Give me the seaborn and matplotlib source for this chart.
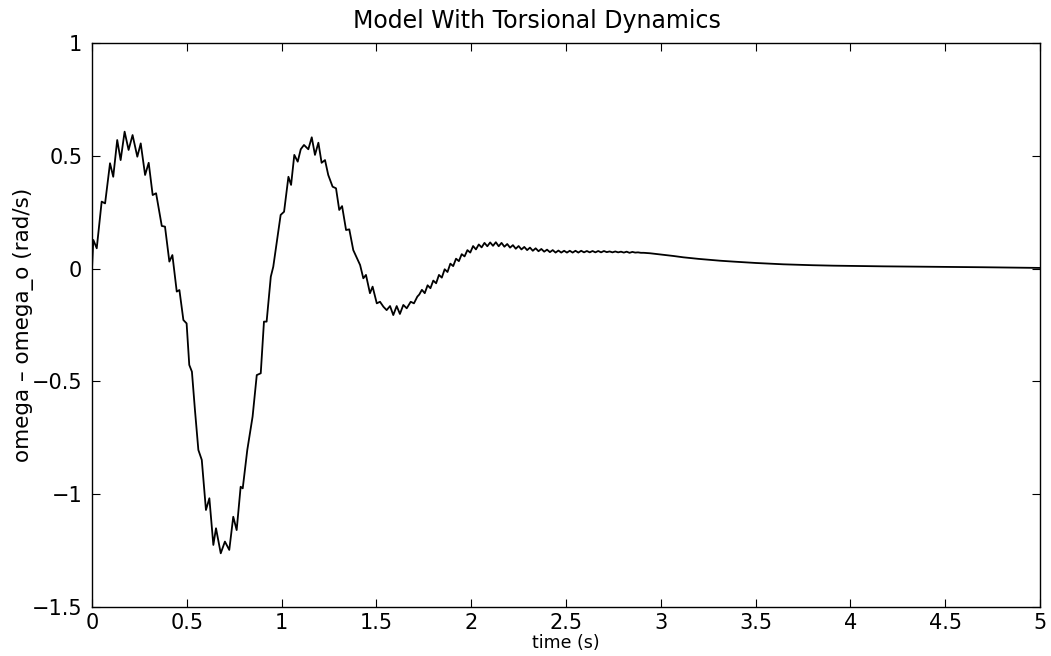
import numpy as np
import pandas as pd
import matplotlib
matplotlib.use("Agg")
import matplotlib.pyplot as plt
import seaborn as sns

# ---- data ----
time_s = [
    0.000, 0.007, 0.025, 0.051, 0.069, 0.095, 0.112, 0.133, 0.151, 0.172,
    0.193, 0.214, 0.239, 0.257, 0.280, 0.299, 0.320, 0.338, 0.368, 0.385,
    0.408, 0.424, 0.447, 0.461, 0.482, 0.499, 0.513, 0.527, 0.543, 0.561,
    0.579, 0.601, 0.619, 0.640, 0.654, 0.679, 0.701, 0.724, 0.745, 0.763,
    0.784, 0.795, 0.819, 0.847, 0.869, 0.890, 0.907, 0.921, 0.943, 0.956,
    0.995, 1.013, 1.036, 1.050, 1.067, 1.085, 1.101, 1.118, 1.141, 1.159,
    1.176, 1.194, 1.211, 1.229, 1.246, 1.269, 1.287, 1.304, 1.319, 1.340,
    1.357, 1.378, 1.414, 1.431, 1.445, 1.466, 1.480, 1.502, 1.519, 1.537,
    1.554, 1.572, 1.589, 1.607, 1.624, 1.642, 1.660, 1.681, 1.698, 1.716,
    1.726,
    1.740, 1.755, 1.770, 1.785, 1.800, 1.815, 1.830, 1.845, 1.860, 1.875,
    1.890, 1.905, 1.920, 1.935, 1.950, 1.965, 1.980, 1.995, 2.010, 2.025,
    2.040, 2.055, 2.070, 2.085, 2.100, 2.115, 2.130, 2.145, 2.160, 2.175,
    2.190, 2.205, 2.220, 2.235, 2.250, 2.265, 2.280, 2.295, 2.310, 2.325,
    2.340, 2.355, 2.370, 2.385, 2.400, 2.415, 2.430, 2.445, 2.460, 2.475,
    2.490, 2.505, 2.520, 2.535, 2.550, 2.565, 2.580, 2.595, 2.610, 2.625,
    2.640, 2.655, 2.670, 2.685, 2.700, 2.715, 2.730, 2.745, 2.760, 2.775,
    2.790, 2.805, 2.820, 2.835, 2.850, 2.865, 2.880, 2.895, 2.910,
    2.943, 3.066, 3.119, 3.200, 3.312, 3.383, 3.500, 3.646, 3.800, 3.910,
    4.174, 4.437, 4.701, 5.000,
]
omega_dev = [
    0.000, 0.127, 0.090, 0.297, 0.289, 0.467, 0.407, 0.570, 0.481, 0.607,
    0.526, 0.592, 0.496, 0.555, 0.415, 0.469, 0.326, 0.334, 0.189, 0.186,
    0.031, 0.060, -0.102, -0.095, -0.228, -0.243, -0.427, -0.457, -0.627, -0.804,
    -0.848, -1.070, -1.018, -1.225, -1.151, -1.262, -1.210, -1.247, -1.100, -1.159,
    -0.967, -0.974, -0.804, -0.656, -0.472, -0.464, -0.235, -0.235, -0.036, 0.008,
    0.238, 0.252, 0.407, 0.371, 0.504, 0.474, 0.529, 0.548, 0.529, 0.582,
    0.504, 0.558, 0.469, 0.481, 0.415, 0.363, 0.356, 0.260, 0.277, 0.171,
    0.174, 0.082, 0.016, -0.043, -0.028, -0.109, -0.080, -0.154, -0.147, -0.169,
    -0.184, -0.166, -0.206, -0.166, -0.201, -0.161, -0.176, -0.147, -0.154, -0.124,
    -0.115,
    -0.094, -0.109, -0.074, -0.087, -0.053, -0.065, -0.028, -0.040, -0.003, -0.015,
    0.022, 0.011, 0.044, 0.033, 0.064, 0.054, 0.082, 0.071, 0.100, 0.085,
    0.107, 0.094, 0.114, 0.099, 0.116, 0.101, 0.117, 0.099, 0.114, 0.097,
    0.109, 0.093, 0.104, 0.088, 0.100, 0.085, 0.096, 0.082, 0.093, 0.079,
    0.090, 0.077, 0.087, 0.075, 0.084, 0.073, 0.082, 0.071, 0.080, 0.071,
    0.079, 0.071, 0.079, 0.071, 0.079, 0.071, 0.079, 0.072, 0.078, 0.072,
    0.078, 0.072, 0.078, 0.072, 0.078, 0.073, 0.076, 0.072, 0.076, 0.072,
    0.075, 0.071, 0.075, 0.070, 0.074, 0.071, 0.072, 0.070, 0.070,
    0.068, 0.056, 0.050, 0.043, 0.035, 0.031, 0.025, 0.019, 0.015, 0.013,
    0.010, 0.008, 0.006, 0.003,
]
x_ticks = [0, 0.5, 1, 1.5, 2, 2.5, 3, 3.5, 4, 4.5, 5]
x_tick_labels = ["0", "0.5", "1", "1.5", "2", "2.5", "3", "3.5", "4", "4.5", "5"]
y_ticks = [-1.5, -1, -0.5, 0, 0.5, 1]
y_tick_labels = ["\u22121.5", "\u22121", "\u22120.5", "0", "0.5", "1"]
title_text = "Model With Torsional Dynamics"
x_label = "time (s)"
y_label = "omega \u2013 omega_o (rad/s)"

df = pd.DataFrame({"t": time_s, "w": omega_dev})

sns.set_theme(style="white")
plt.rcParams["font.family"] = ["DejaVu Sans"]

fig = plt.figure(figsize=(10.51, 6.56), dpi=100)
ax = fig.add_axes([92 / 1051, 1 - 607 / 656, (1040 - 92) / 1051, (607 - 43) / 656])

sns.lineplot(data=df, x="t", y="w", ax=ax, color="black", linewidth=1.3,
             sort=False, estimator=None)

ax.set_xlim(0, 5)
ax.set_ylim(-1.5, 1)
ax.set_xticks(x_ticks)
ax.set_xticklabels(x_tick_labels)
ax.set_yticks(y_ticks)
ax.set_yticklabels(y_tick_labels)
ax.tick_params(axis="both", which="both", direction="in", length=6, width=0.8,
               colors="black", labelsize=15, top=True, right=True,
               bottom=True, left=True)
ax.tick_params(axis="x", pad=4)
ax.tick_params(axis="y", pad=7)
for sp in ax.spines.values():
    sp.set_visible(True)
    sp.set_color("black")
    sp.set_linewidth(1.0)

ax.set_title(title_text, fontsize=17, color="black", pad=11,
             x=(537 - 92) / (1040 - 92))
ax.set_xlabel(x_label, fontsize=12.5, color="black", labelpad=1)
ax.set_ylabel(y_label, fontsize=15.5, color="black", labelpad=-2)

fig.savefig("out.png", dpi=100, facecolor="white")
